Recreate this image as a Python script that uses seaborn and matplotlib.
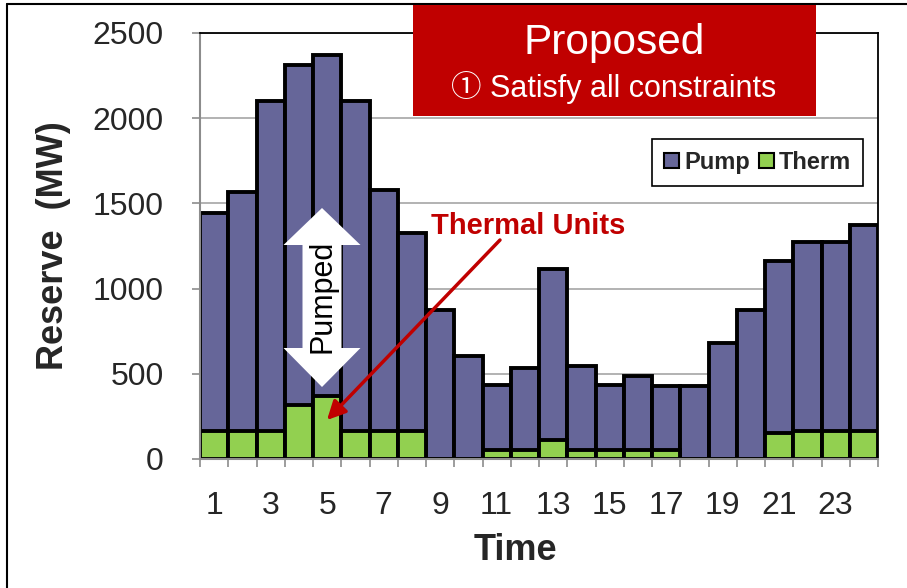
import numpy as np
import pandas as pd
import matplotlib
matplotlib.use("Agg")
import matplotlib.pyplot as plt
import matplotlib.patches as mpatches
from matplotlib.lines import Line2D
import seaborn as sns

# ---- data ----
hours = list(range(1, 25))
pump = [1280, 1400, 1935, 2000, 2000, 1935, 1415, 1160, 875, 605, 380, 480,
        1005, 490, 380, 430, 375, 430, 680, 875, 1005, 1110, 1110, 1210]
therm = [165, 165, 165, 315, 370, 165, 165, 165, 0, 0, 55, 55,
         110, 55, 55, 55, 55, 0, 0, 0, 155, 165, 165, 165]
y_ticks = [0, 500, 1000, 1500, 2000, 2500]
x_tick_labels = [str(h) for h in hours[::2]]
series_names = ["Pump", "Therm"]

PUMP_C = "#666699"
THERM_C = "#92D050"
RED = "#C00000"

df = pd.DataFrame({"Time": [str(h) for h in hours], "Pump": pump, "Therm": therm})
df["Total"] = df["Pump"] + df["Therm"]

sns.set_theme(style="white")
plt.rcParams["font.family"] = ["Liberation Sans", "Noto Sans CJK JP", "DejaVu Sans"]

W, H = 907, 588
fig = plt.figure(figsize=(W / 100, H / 100), dpi=100)
ax = fig.add_axes([200 / W, 1 - 459 / H, (878 - 200) / W, (459 - 33) / H])

sns.barplot(data=df, x="Time", y="Total", color=PUMP_C, saturation=1,
            edgecolor="black", linewidth=2.8, width=1.0, errorbar=None, ax=ax, zorder=2)
sns.barplot(data=df, x="Time", y="Therm", color=THERM_C, saturation=1,
            edgecolor="black", linewidth=2.8, width=1.0, errorbar=None, ax=ax, zorder=2)

ax.set_xlim(-0.5, len(hours) - 0.5)
ax.set_ylim(0, 2500)
ax.set_yticks(y_ticks)
ax.set_yticklabels([str(v) for v in y_ticks], fontsize=23)
ax.set_xticks(np.arange(0, len(hours), 2))
ax.set_xticklabels(x_tick_labels, fontsize=23)
ax.set_xticks(np.arange(-0.5, len(hours), 1), minor=True)

ax.tick_params(axis="y", which="major", direction="out", length=6, width=1.2,
               color="#8C8C8C", pad=20, left=True)
ax.tick_params(axis="x", which="major", length=0, pad=23, bottom=True)
ax.tick_params(axis="x", which="minor", direction="out", length=5.5, width=1.2,
               color="#8C8C8C", bottom=True)

ax.yaxis.grid(True, color="#A6A6A6", linewidth=1.2)
ax.xaxis.grid(False)
ax.set_axisbelow(True)

for s in ["left", "bottom"]:
    ax.spines[s].set_color("#8C8C8C")
    ax.spines[s].set_linewidth(1.5)
for s in ["top", "right"]:
    ax.spines[s].set_color("black")
    ax.spines[s].set_linewidth(1.3)
for s in ax.spines.values():
    s.set_visible(True)

ax.set_xlabel("Time", fontsize=26, fontweight="bold", labelpad=9)
ax.xaxis.label.set_x((515 - 200) / (878 - 200))
ax.set_ylabel("Reserve  (MW)", fontsize=26, fontweight="bold", labelpad=16)

# legend
handles = [mpatches.Patch(facecolor=PUMP_C, edgecolor="black", linewidth=1.5),
           mpatches.Patch(facecolor=THERM_C, edgecolor="black", linewidth=1.5)]
leg = fig.legend(handles, series_names, loc="upper left",
                 bbox_to_anchor=(652 / W, 1 - 139 / H), ncol=2, frameon=True,
                 fancybox=False, edgecolor="black", framealpha=1,
                 prop={"weight": "bold", "size": 17},
                 handlelength=0.65, handleheight=0.65, handletextpad=0.2,
                 columnspacing=0.4, borderpad=0.5, borderaxespad=0)
leg.get_frame().set_linewidth(1.2)
leg.set_zorder(6)

# outer frame
fig.add_artist(Line2D([7 / W, 7 / W], [0, 1 - 4 / H], transform=fig.transFigure,
                      color="black", linewidth=1.5))
fig.add_artist(Line2D([7 / W, 1], [1 - 4 / H, 1 - 4 / H], transform=fig.transFigure,
                      color="black", linewidth=1.5))

# red title box
fig.add_artist(mpatches.Rectangle((413 / W, 1 - 116 / H), (816 - 413) / W, (116 - 5) / H,
                                  transform=fig.transFigure, facecolor=RED,
                                  edgecolor="none", zorder=5))
fig.text(614 / W, 1 - 43 / H, "Proposed", color="white", fontsize=30.5,
         ha="center", va="center", zorder=6)
fig.text(614 / W, 1 - 88 / H, "\u2460 Satisfy all constraints", color="white",
         fontsize=22, ha="center", va="center", zorder=6)

# "Pumped" white double arrow
c = 322
pts = [(c, 208), (c + 38.5, 245), (c + 19.5, 245), (c + 19.5, 348), (c + 38.5, 348),
       (c, 387), (c - 38.5, 348), (c - 19.5, 348), (c - 19.5, 245), (c - 38.5, 245)]
fig.add_artist(mpatches.Polygon([(x / W, 1 - y / H) for x, y in pts], closed=True,
                                transform=fig.transFigure, facecolor="white",
                                edgecolor="none", zorder=4))
fig.text(c / W, 1 - 296 / H, "Pumped", rotation=90, fontsize=22, color="black",
         ha="center", va="center", zorder=5)

# Thermal units annotation
ax.annotate("", xy=(327, H - 420), xytext=(500, H - 240), xycoords="figure pixels",
            textcoords="figure pixels",
            arrowprops=dict(arrowstyle="-|>", color=RED, lw=2.5, mutation_scale=28,
                            shrinkA=0, shrinkB=0), zorder=5)
fig.text(528 / W, 1 - 226 / H, "Thermal Units", color=RED, fontsize=21,
         fontweight="bold", ha="center", va="center", zorder=6)

fig.savefig("out.png", dpi=100)
